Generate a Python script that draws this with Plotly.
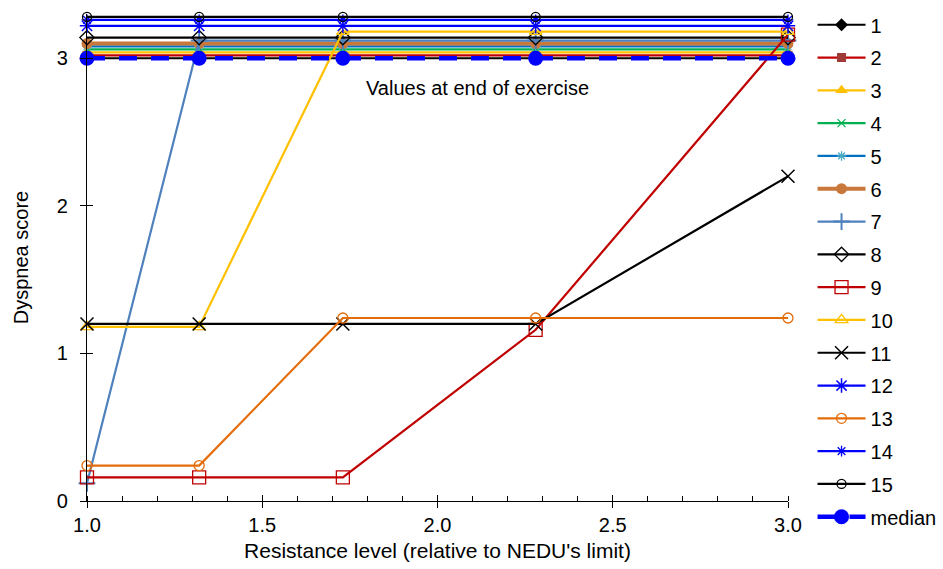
import plotly.graph_objects as go

# Resistance levels (relative to NEDU's limit)
resistance = [1.0, 1.32, 1.73, 2.28, 3.0]

# Dyspnea scores per subject (small offsets keep overlapping subjects visible)
s1 = [3.00, 3.00, 3.00, 3.00, 3.00]
s2 = [3.02, 3.02, 3.02, 3.02, 3.02]
s3 = [3.04, 3.04, 3.04, 3.04, 3.04]
s4 = [3.06, 3.06, 3.06, 3.06, 3.06]
s5 = [3.08, 3.08, 3.08, 3.08, 3.08]
s6 = [3.10, 3.10, 3.10, 3.10, 3.10]
s7 = [0.12, 3.12, 3.12, 3.12, 3.12]
s8 = [3.14, 3.14, 3.14, 3.14, 3.14]
s9 = [0.16, 0.16, 0.16, 1.16, 3.16]
s10 = [1.18, 1.18, 3.18, 3.18, 3.18]
s11 = [1.20, 1.20, 1.20, 1.20, 2.20]
s12 = [3.22, 3.22, 3.22, 3.22, 3.22]
s13 = [0.24, 0.24, 1.24, 1.24, 1.24]
s14 = [3.26, 3.26, 3.26, 3.26, 3.26]
s15 = [3.28, 3.28, 3.28, 3.28, 3.28]
median = [3, 3, 3, 3, 3]

series_names = ["1", "2", "3", "4", "5", "6", "7", "8", "9", "10",
                "11", "12", "13", "14", "15"]
series_values = [s1, s2, s3, s4, s5, s6, s7, s8, s9, s10,
                 s11, s12, s13, s14, s15]

# (line color, line width, marker symbol, marker size, marker color, marker line width)
# For "-open" symbols the marker color is the outline color.
styles = [
    ("#000000", 2.2, "diamond", 10, "#000000", 0),
    ("#C00000", 2.2, "square", 9, "#9E3B38", 0),
    ("#FFC000", 2.2, "triangle-up", 11, "#FFC000", 0),
    ("#00B050", 2.2, "x-thin-open", 8, "#00B050", 1.3),
    ("#0070C0", 2.2, "asterisk-open", 8, "#4BACC6", 1.3),
    ("#C8783A", 4.2, "circle", 11, "#C8783A", 0),
    ("#4F81BD", 2.2, "cross-thin-open", 12, "#4F81BD", 2),
    ("#000000", 2.2, "diamond-open", 11, "#000000", 1.3),
    ("#C00000", 2.2, "square-open", 13, "#C00000", 1.3),
    ("#FFC000", 2.2, "triangle-up-open", 11, "#FFC000", 1.3),
    ("#000000", 2.2, "x-thin-open", 13, "#000000", 1.5),
    ("#0000FF", 2.2, "asterisk-open", 12, "#0000FF", 1.5),
    ("#E46C0A", 2.2, "circle-open", 10, "#E46C0A", 1.3),
    ("#0000FF", 2.2, "asterisk-open", 9, "#0000FF", 1.3),
    ("#000000", 2.2, "circle-open", 9, "#000000", 1.3),
]

FONT = "Liberation Sans, Arial, sans-serif"

fig = go.Figure()

for name, vals, st in zip(series_names, series_values, styles):
    lc, lw, sym, ms, mc, mlw = st
    fig.add_trace(go.Scatter(
        x=resistance, y=vals, name=name, mode="lines+markers",
        legendgroup=name,
        line=dict(color=lc, width=lw),
        marker=dict(symbol=sym, size=ms, color=mc,
                    line=dict(color=mc, width=mlw)),
        cliponaxis=False,
    ))

fig.add_trace(go.Scatter(
    x=resistance, y=median, name="median", mode="lines+markers",
    legendgroup="median",
    line=dict(color="#0000FF", width=4.5, dash="18px,14px"),
    marker=dict(symbol="circle", size=15, color="#0000FF"),
    cliponaxis=False,
))

# Overlay axes carry the inside half of the major ticks
fig.add_trace(go.Scatter(x=[None], y=[None], xaxis="x2", yaxis="y2",
                         showlegend=False, hoverinfo="skip"))

fig.add_annotation(x=2.113, y=2.80, text="Values at end of exercise",
                   showarrow=False, font=dict(family=FONT, size=20, color="#000000"))

axis_common = dict(showgrid=False, zeroline=False, showline=True,
                   linecolor="#000000", linewidth=1.2,
                   tickcolor="#000000", tickwidth=1.2,
                   tickfont=dict(family=FONT, size=20, color="#000000"))

fig.update_layout(
    width=943, height=569,
    margin=dict(l=87, r=155, t=14, b=68, autoexpand=False),
    plot_bgcolor="white", paper_bgcolor="white",
    font=dict(family=FONT, color="#000000"),
    xaxis=dict(range=[1.0, 3.0], tickvals=[1.0, 1.5, 2.0, 2.5, 3.0],
               ticktext=["1.0", "1.5", "2.0", "2.5", "3.0"],
               ticks="outside", ticklen=6,
               minor=dict(dtick=0.1, tick0=1.0, ticks="inside", ticklen=5,
                          tickcolor="#000000", tickwidth=1),
               title=dict(text="Resistance level (relative to NEDU's limit)",
                          font=dict(family=FONT, size=21, color="#000000"),
                          standoff=8),
               **axis_common),
    yaxis=dict(range=[0, 3.3], tickvals=[0, 1, 2, 3],
               ticks="outside", ticklen=6, ticklabelstandoff=8,
               title=dict(text="Dyspnea score",
                          font=dict(family=FONT, size=20, color="#000000"),
                          standoff=22),
               **axis_common),
    xaxis2=dict(overlaying="x", matches="x", anchor="y2", showgrid=False,
                zeroline=False, showline=False, ticks="inside", ticklen=6,
                tickcolor="#000000", tickwidth=1.2, showticklabels=False,
                tickvals=[1.0, 1.5, 2.0, 2.5, 3.0], range=[1.0, 3.0]),
    yaxis2=dict(overlaying="y", matches="y", anchor="x2", showgrid=False,
                zeroline=False, showline=False, ticks="inside", ticklen=6,
                tickcolor="#000000", tickwidth=1.2, showticklabels=False,
                tickvals=[0, 1, 2, 3], range=[0, 3.3]),
    legend=dict(x=1.035, xanchor="left", y=1.018, yanchor="top",
                font=dict(family=FONT, size=20, color="#000000"),
                traceorder="grouped", tracegroupgap=3.8, itemwidth=48,
                maxheight=569, bgcolor="rgba(0,0,0,0)"),
    showlegend=True,
)

fig.write_html("out.html")
